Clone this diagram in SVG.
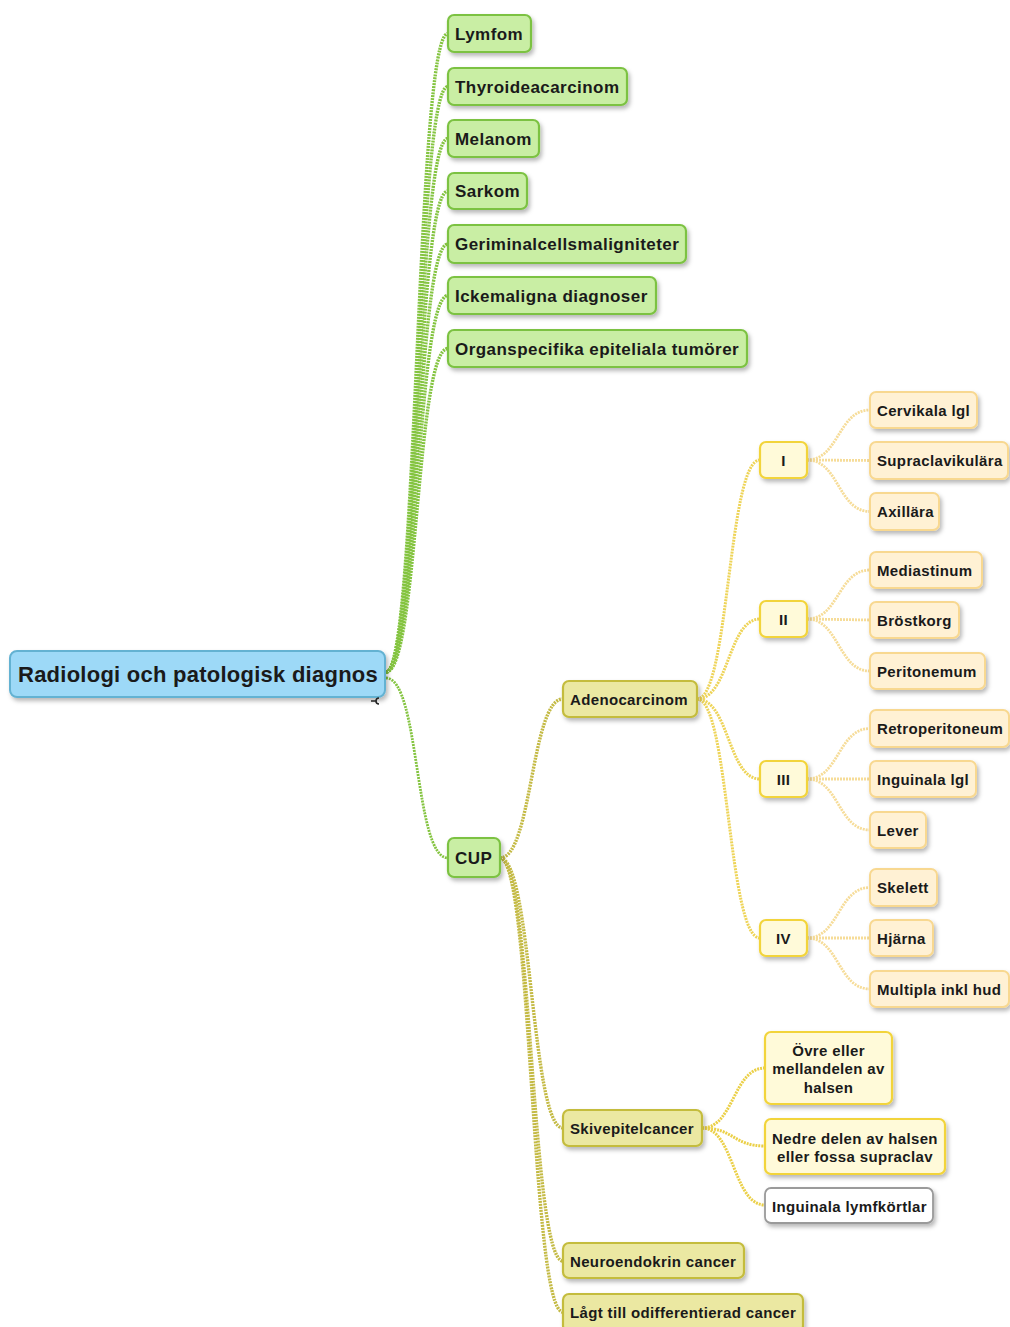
<svg xmlns="http://www.w3.org/2000/svg" width="1010" height="1327" viewBox="0 0 1010 1327">
<defs>
<filter id="sh" x="-10%" y="-20%" width="130%" height="160%">
<feDropShadow dx="2" dy="3" stdDeviation="2" flood-color="#000" flood-opacity="0.28"/>
</filter>
<style>
text{font-family:"Liberation Sans",Arial,sans-serif;font-weight:bold;fill:#1a1a1a}
.t17{font-size:17px;letter-spacing:0.45px}
.t15{font-size:15px;letter-spacing:0.35px}
.root rect{fill:#9dd9f7;stroke:#64b2d2;stroke-width:2}
.green rect{fill:#c9eea4;stroke:#7cc242;stroke-width:2.2}
.olive rect{fill:#ebe8a2;stroke:#c4bc3c;stroke-width:2.2}
.yel rect{fill:#fffad9;stroke:#f2d43a;stroke-width:2.2}
.peach rect{fill:#fff1d4;stroke:#f8d890;stroke-width:2}
.white rect{fill:#ffffff;stroke:#9a9a9a;stroke-width:1.8}
g.node rect{filter:url(#sh)}
.c{fill:none;stroke-dasharray:2 1}
.cg{stroke:#84c440;stroke-width:3.4}
.co{stroke:#c4ba44;stroke-width:3.4}
.cy{stroke:#eed458;stroke-width:3}
.cp{stroke:#f6dc98;stroke-width:2.8}
.cs{stroke:#ebd048;stroke-width:3}
</style>
</defs>
<rect width="1010" height="1327" fill="#ffffff"/>
<g id="connectors">
<path class="c cg" d="M386,672 C418,672 416,33.5 448,33.5"/>
<path class="c cg" d="M386,672 C418,672 416,86.5 448,86.5"/>
<path class="c cg" d="M386,672 C418,672 416,138.5 448,138.5"/>
<path class="c cg" d="M386,672 C418,672 416,191 448,191"/>
<path class="c cg" d="M386,672 C418,672 416,244 448,244"/>
<path class="c cg" d="M386,672 C418,672 416,295.5 448,295.5"/>
<path class="c cg" d="M386,672 C418,672 416,348.5 448,348.5"/>
<path class="c cg" style="stroke-width:2.8" d="M386,678 C420,678 414,858 448,858"/>
<path class="c co" d="M500,858 C532,858 531,699 563,699"/>
<path class="c co" d="M500,858 C532,858 531,1128 563,1128"/>
<path class="c co" d="M500,858 C532,858 531,1261 563,1261"/>
<path class="c co" d="M500,858 C532,858 531,1312 563,1312"/>
<path class="c cy" d="M697,699 C729,699 728,460 760,460"/>
<path class="c cy" d="M697,699 C729,699 728,619 760,619"/>
<path class="c cy" d="M697,699 C729,699 728,779 760,779"/>
<path class="c cy" d="M697,699 C729,699 728,938 760,938"/>
<path class="c cp" d="M807,460 C839,460 838,410 870,410"/>
<path class="c cp" d="M807,460 L870,460.5"/>
<path class="c cp" d="M807,460 C839,460 838,511.5 870,511.5"/>
<path class="c cp" d="M807,619 C839,619 838,570 870,570"/>
<path class="c cp" d="M807,619 L870,620"/>
<path class="c cp" d="M807,619 C839,619 838,671 870,671"/>
<path class="c cp" d="M807,779 C839,779 838,728.5 870,728.5"/>
<path class="c cp" d="M807,779 L870,779"/>
<path class="c cp" d="M807,779 C839,779 838,830 870,830"/>
<path class="c cp" d="M807,938 C839,938 838,887.5 870,887.5"/>
<path class="c cp" d="M807,938 L870,938"/>
<path class="c cp" d="M807,938 C839,938 838,989 870,989"/>
<path class="c cs" d="M702,1128 C734,1128 733,1068 765,1068"/>
<path class="c cs" d="M702,1128 C734,1128 733,1146 765,1146"/>
<path class="c cs" d="M702,1128 C734,1128 733,1205 765,1205"/>
</g>
<g id="root" class="node root">
<rect x="10" y="651" width="375" height="46" rx="7"/>
<text x="18" y="682" style="font-size:22px;letter-spacing:0.25px">Radiologi och patologisk diagnos</text>
<path d="M371,701 H376 M379,698 A3,3 0 0 0 379,704" fill="none" stroke="#222" stroke-width="1.6"/>
</g>
<g id="lymfom" class="node green"><rect x="448" y="15" width="83" height="37" rx="6"/><text class="t17" x="455" y="40">Lymfom</text></g>
<g id="thyroidea" class="node green"><rect x="448" y="68" width="179" height="37" rx="6"/><text class="t17" x="455" y="93">Thyroideacarcinom</text></g>
<g id="melanom" class="node green"><rect x="448" y="120" width="91" height="37" rx="6"/><text class="t17" x="455" y="145">Melanom</text></g>
<g id="sarkom" class="node green"><rect x="448" y="173" width="79" height="36" rx="6"/><text class="t17" x="455" y="197">Sarkom</text></g>
<g id="geriminal" class="node green"><rect x="448" y="225" width="238" height="38" rx="6"/><text class="t17" x="455" y="250">Geriminalcellsmaligniteter</text></g>
<g id="ickemaligna" class="node green"><rect x="448" y="277" width="208" height="37" rx="6"/><text class="t17" x="455" y="302">Ickemaligna diagnoser</text></g>
<g id="organspecifika" class="node green"><rect x="448" y="330" width="299" height="37" rx="6"/><text class="t17" x="455" y="355">Organspecifika epiteliala tumörer</text></g>
<g id="cup" class="node green"><rect x="448" y="838" width="52" height="39" rx="6"/><text class="t17" x="455" y="864">CUP</text></g>
<g id="adenocarcinom" class="node olive"><rect x="563" y="681" width="134" height="36" rx="6"/><text class="t15" x="570" y="705">Adenocarcinom</text></g>
<g id="stage-i" class="node yel"><rect x="760" y="442" width="47" height="36" rx="6"/><text class="t15" x="783.5" y="466" text-anchor="middle">I</text></g>
<g id="stage-ii" class="node yel"><rect x="760" y="601" width="47" height="36" rx="6"/><text class="t15" x="783.5" y="625" text-anchor="middle">II</text></g>
<g id="stage-iii" class="node yel"><rect x="760" y="761" width="47" height="36" rx="6"/><text class="t15" x="783.5" y="785" text-anchor="middle">III</text></g>
<g id="stage-iv" class="node yel"><rect x="760" y="920" width="47" height="36" rx="6"/><text class="t15" x="783.5" y="944" text-anchor="middle">IV</text></g>
<g id="cervikala" class="node peach"><rect x="870" y="392" width="107" height="36" rx="6"/><text class="t15" x="877" y="416">Cervikala lgl</text></g>
<g id="supraclavikulara" class="node peach"><rect x="870" y="442" width="138" height="37" rx="6"/><text class="t15" x="877" y="466">Supraclavikulära</text></g>
<g id="axillara" class="node peach"><rect x="870" y="493" width="69" height="37" rx="6"/><text class="t15" x="877" y="517">Axillära</text></g>
<g id="mediastinum" class="node peach"><rect x="870" y="552" width="112" height="36" rx="6"/><text class="t15" x="877" y="576">Mediastinum</text></g>
<g id="brostkorg" class="node peach"><rect x="870" y="602" width="89" height="36" rx="6"/><text class="t15" x="877" y="626">Bröstkorg</text></g>
<g id="peritonemum" class="node peach"><rect x="870" y="653" width="115" height="36" rx="6"/><text class="t15" x="877" y="677">Peritonemum</text></g>
<g id="retroperitoneum" class="node peach"><rect x="870" y="710" width="139" height="37" rx="6"/><text class="t15" x="877" y="734">Retroperitoneum</text></g>
<g id="inguinala-lgl" class="node peach"><rect x="870" y="761" width="106" height="36" rx="6"/><text class="t15" x="877" y="785">Inguinala lgl</text></g>
<g id="lever" class="node peach"><rect x="870" y="812" width="56" height="36" rx="6"/><text class="t15" x="877" y="836">Lever</text></g>
<g id="skelett" class="node peach"><rect x="870" y="869" width="67" height="37" rx="6"/><text class="t15" x="877" y="893">Skelett</text></g>
<g id="hjarna" class="node peach"><rect x="870" y="920" width="63" height="36" rx="6"/><text class="t15" x="877" y="944">Hjärna</text></g>
<g id="multipla" class="node peach"><rect x="870" y="971" width="139" height="36" rx="6"/><text class="t15" x="877" y="995">Multipla inkl hud</text></g>
<g id="skivepitelcancer" class="node olive"><rect x="563" y="1110" width="139" height="36" rx="6"/><text class="t15" x="570" y="1134">Skivepitelcancer</text></g>
<g id="ovre" class="node yel"><rect x="765" y="1032" width="127" height="72" rx="6"/><text class="t15" x="828.5" y="1056" text-anchor="middle">Övre eller</text><text class="t15" x="828.5" y="1074" text-anchor="middle">mellandelen av</text><text class="t15" x="828.5" y="1093" text-anchor="middle">halsen</text></g>
<g id="nedre" class="node yel"><rect x="765" y="1119" width="180" height="55" rx="6"/><text class="t15" x="855" y="1144" text-anchor="middle">Nedre delen av halsen</text><text class="t15" x="855" y="1162" text-anchor="middle">eller fossa supraclav</text></g>
<g id="inguinala-lymfkortlar" class="node white"><rect x="765" y="1188" width="168" height="35" rx="6"/><text class="t15" x="772" y="1212">Inguinala lymfkörtlar</text></g>
<g id="neuroendokrin" class="node olive"><rect x="563" y="1243" width="181" height="35" rx="6"/><text class="t15" x="570" y="1267">Neuroendokrin cancer</text></g>
<g id="lagt" class="node olive"><rect x="563" y="1294" width="240" height="38" rx="6"/><text class="t15" x="570" y="1318">Lågt till odifferentierad cancer</text></g>
</svg>
